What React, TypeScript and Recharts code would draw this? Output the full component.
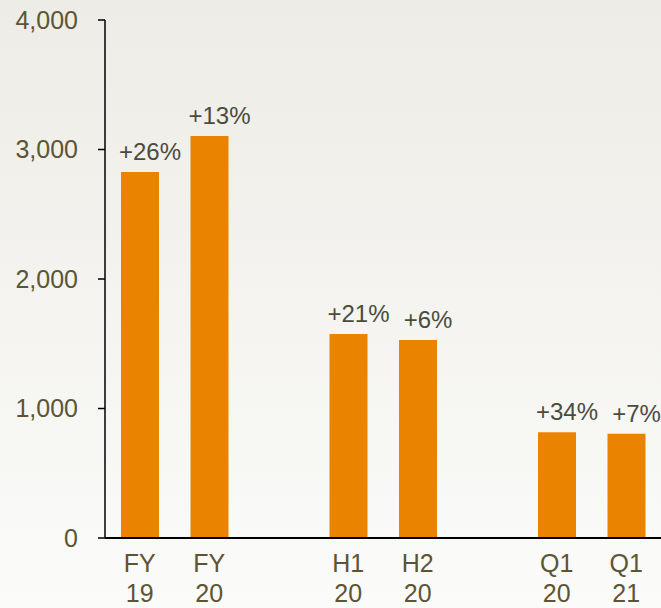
import { BarChart, Bar, XAxis, YAxis, LabelList } from "recharts";

// ── Data ─────────────────────────────────────────────────────────────

const PERIODS = ["FY 19", "FY 20", "", "H1 20", "H2 20", "", "Q1 20", "Q1 21"];
const VALUES: (number | null)[] = [2826, 3104, null, 1575, 1529, null, 816, 805];
const GROWTH: (string | null)[] = ["+26%", "+13%", null, "+21%", "+6%", null, "+34%", "+7%"];
const Y_TICKS = [0, 1000, 2000, 3000, 4000];

const data = PERIODS.map((p, i) => ({ period: p, value: VALUES[i], growth: GROWTH[i] }));

const FONT = "'Liberation Sans', Arial, sans-serif";
const TICK_COLOR = "#5d5434";
const LABEL_COLOR = "#4b4b3d";
const BAR_COLOR = "#ea8400";

// Two-line category tick ("FY" over "19")
function PeriodTick(props: any) {
  const { x, y, payload } = props;
  if (!payload.value) return null;
  const [top, bottom] = String(payload.value).split(" ");
  return (
    <g transform={`translate(${x},${y})`}>
      <text textAnchor="middle" fill={TICK_COLOR} fontSize={25} fontFamily={FONT}>
        <tspan x={0} dy={34}>{top}</tspan>
        <tspan x={0} dy={30}>{bottom}</tspan>
      </text>
    </g>
  );
}

function GrowthLabel(props: any) {
  const { x, y, width, value } = props;
  if (value == null) return null;
  return (
    <text
      x={x + width / 2 + 10}
      y={y - 12}
      textAnchor="middle"
      fill={LABEL_COLOR}
      fontSize={24}
      fontFamily={FONT}
    >
      {value}
    </text>
  );
}

export default function App() {
  return (
    <div
      style={{
        position: "absolute",
        top: 0,
        left: 0,
        width: 661,
        height: 608,
        background: "linear-gradient(to bottom, #edece6, #fbfbf9)",
      }}
    >
      <BarChart
        width={661}
        height={608}
        data={data}
        margin={{ top: 20, right: 0, bottom: 0, left: 0 }}
        barCategoryGap={0}
      >
        <XAxis
          dataKey="period"
          height={70}
          tickLine={false}
          tickSize={0}
          tickMargin={0}
          axisLine={{ stroke: "#000", strokeWidth: 2 }}
          tick={PeriodTick as any}
          interval={0}
        />
        <YAxis
          width={105}
          domain={[0, 4000]}
          ticks={Y_TICKS}
          tickSize={7}
          tickMargin={20}
          tickFormatter={(v: number) => v.toLocaleString("en-US")}
          axisLine={{ stroke: "#000", strokeWidth: 1.5 }}
          tickLine={{ stroke: "#000", strokeWidth: 1.5 }}
          tick={{ fill: TICK_COLOR, fontSize: 25, fontFamily: FONT }}
        />
        <Bar dataKey="value" fill={BAR_COLOR} barSize={38} isAnimationActive={false}>
          <LabelList dataKey="growth" content={GrowthLabel as any} />
        </Bar>
      </BarChart>
    </div>
  );
}
